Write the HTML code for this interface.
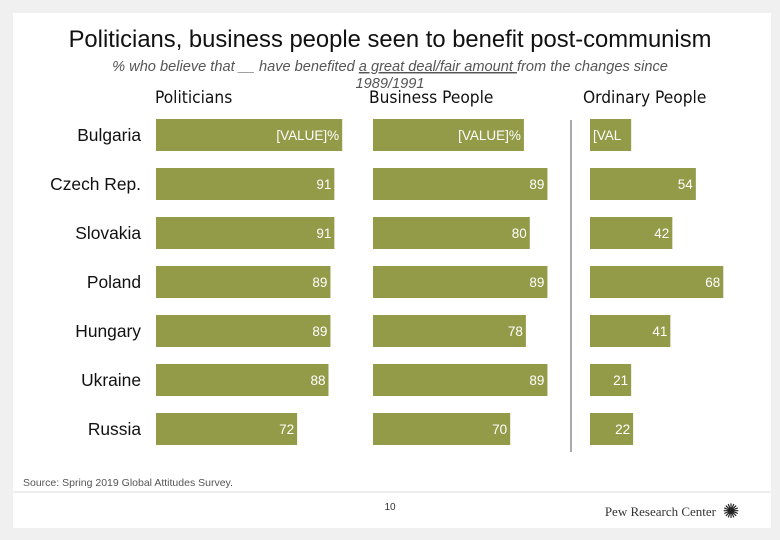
<!DOCTYPE html>
<html><head><meta charset="utf-8"><style>
body{margin:0;background:#f0f0f0;}
#slide{position:absolute;left:13px;top:13px;width:758px;height:515px;background:#fff;}
svg{position:absolute;left:0;top:0;}
</style></head><body>
<div id="slide"></div>
<svg id="chart" width="780" height="540" font-family="Liberation Sans, sans-serif">
<text x="390" y="47" text-anchor="middle" font-size="23.8" fill="#111">Politicians, business people seen to benefit post-communism</text>
<text x="390" y="71" text-anchor="middle" font-size="14.6" font-style="italic" fill="#555">% who believe that __ have benefited <tspan text-decoration="underline">a great deal/fair amount </tspan>from the changes since</text>
<text x="390" y="88" text-anchor="middle" font-size="14.6" font-style="italic" fill="#555">1989/1991</text>
<line x1="571" y1="120" x2="571" y2="452" stroke="#555" stroke-width="1"/>
<line x1="13" y1="492" x2="771" y2="492" stroke="#ddd" stroke-width="1"/>
<text x="23" y="486" font-size="10.5" fill="#555">Source: Spring 2019 Global Attitudes Survey.</text>
<text x="390" y="510" text-anchor="middle" font-size="10" fill="#333">10</text>
<text x="716" y="516" text-anchor="end" font-size="13" font-family="Liberation Serif, serif" fill="#333">Pew Research Center</text>
<text x="731" y="518" text-anchor="middle" font-size="20" fill="#222">✺</text>
<g id="marks"></g>
</svg>
<script>
const countries=["Bulgaria","Czech Rep.","Slovakia","Poland","Hungary","Ukraine","Russia"];
const groups=["Politicians","Business People","Ordinary People"];
const politicians=[95,91,91,89,89,88,72];
const business=[77,89,80,89,78,89,70];
const ordinary=[21,54,42,68,41,21,22];
const labelsPol=["[VALUE]%","91","91","89","89","88","72"];
const labelsBus=["[VALUE]%","89","80","89","78","89","70"];
const labelsOrd=["[VALUE]%","54","42","68","41","21","22"];
const series=[politicians,business,ordinary];
const labels=[labelsPol,labelsBus,labelsOrd];
const starts=[156,373,590];
const headerX=[155,369,583];
const ppu=1.96;
const x=(g,v)=>starts[g]+v*ppu;
const y=i=>119+i*49;
const bh=32;
const ns="http://www.w3.org/2000/svg";
const g=document.getElementById('marks');
function mk(t,a){const e=document.createElementNS(ns,t);for(const k in a)e.setAttribute(k,a[k]);g.appendChild(e);return e;}
groups.forEach((name,gi)=>{
  const h=mk('text',{x:headerX[gi],y:103,'font-size':17.2,fill:'#111','font-family':'DejaVu Sans Condensed, DejaVu Sans, sans-serif'});
  h.textContent=name;
  
  
});
countries.forEach((c,i)=>{
  const t=mk('text',{x:141,y:y(i)+bh/2+6,'text-anchor':'end','font-size':17.4,fill:'#111'});
  t.textContent=c;
  
  
  series.forEach((s,gi)=>{
    const r=mk('rect',{x:starts[gi],y:y(i),width:x(gi,s[i])-starts[gi],height:bh,fill:'#939b48'});
    
    
    let lbl=labels[gi][i];
    const w=x(gi,s[i])-starts[gi];
    if(w<50&&lbl.length>3)lbl=lbl.slice(0,4);
    const anchorEnd=w>=50||lbl.length<=3;
    const vt=mk('text',{x:anchorEnd?x(gi,s[i])-3:starts[gi]+3,y:y(i)+bh/2+5,'text-anchor':anchorEnd?'end':'start','font-size':13.5,fill:'#fff'});
    vt.textContent=lbl;
    
    
  });
});
</script>
</body></html>
